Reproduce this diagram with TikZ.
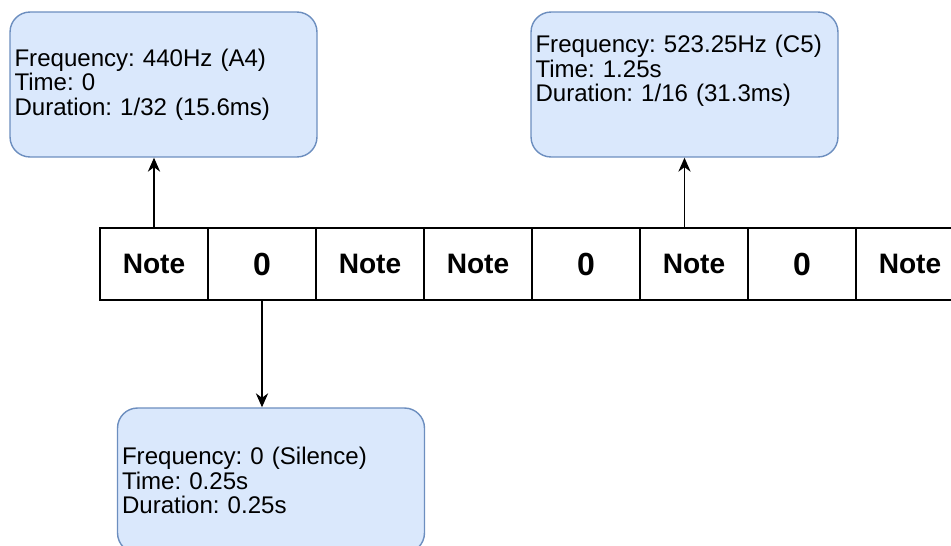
\documentclass[tikz,border=0pt]{standalone}
\usepackage{fontspec}
\setmainfont{Liberation Sans}
\usetikzlibrary{arrows.meta}
\definecolor{infofill}{HTML}{DAE8FC}
\definecolor{infoline}{HTML}{6C8EBF}
\frenchspacing
\tikzset{
  cell/.style={draw, fill=white, line width=0.8pt, minimum width=2.16cm,
    minimum height=1.44cm, inner sep=0pt, font=\fontsize{16}{19}\selectfont\bfseries},
  rest/.style={cell, font=\fontsize{18.2}{22}\selectfont\bfseries},
  info/.style={draw=infoline, fill=infofill, line width=0.8pt, rounded corners=0.4cm,
    minimum height=2.9cm, text width=5.96cm, inner xsep=0.09cm, align=left,
    font=\fontsize{13.7}{13.9}\selectfont},
  link/.style={line width=0.7pt}
}

\begin{document}
\begin{tikzpicture}[x=0.02cm,y=-0.02cm]
  \useasboundingbox (0,0) rectangle (951,545);
  \clip (0,0) rectangle (951,545);
  % the sequence
  \node[cell] (NoteA) at (154,264) {Note};
  \node[rest] (RestA) at (262,264) {0};
  \node[cell] (NoteB) at (370,264) {Note};
  \node[cell] (NoteC) at (478,264) {Note};
  \node[rest] (RestB) at (586,264) {0};
  \node[cell] (NoteD) at (694,264) {Note};
  \node[rest] (RestC) at (802,264) {0};
  \node[cell] (NoteE) at (910,264) {Note};
  % the details
  \node[info] (InfoA) at (163.5,84.5) {Frequency: 440Hz (A4)\\ Time: 0\\
    Duration: 1/32 (15.6ms)};
  \node[info] (InfoB) at (684.5,84.5) {Frequency: 523.25Hz (C5)\\ Time: 1.25s\\
    Duration: 1/16 (31.3ms)\\ \strut};
  \node[info] (InfoC) at (271,480.5) {Frequency: 0 (Silence)\\ Time: 0.25s\\
    Duration: 0.25s};
  \draw[link, {Stealth[length=8pt,width=7pt]}-] (InfoA.south -| NoteA.north) -- (NoteA.north);
  \draw[link, {Stealth[length=8pt,width=7pt]}-] (InfoB.south) -- (InfoB.south |- NoteD.north);
  \draw[link, {Stealth[length=8pt,width=7pt]}-] (InfoC.north -| RestA.south) -- (RestA.south);
\end{tikzpicture}
\end{document}
